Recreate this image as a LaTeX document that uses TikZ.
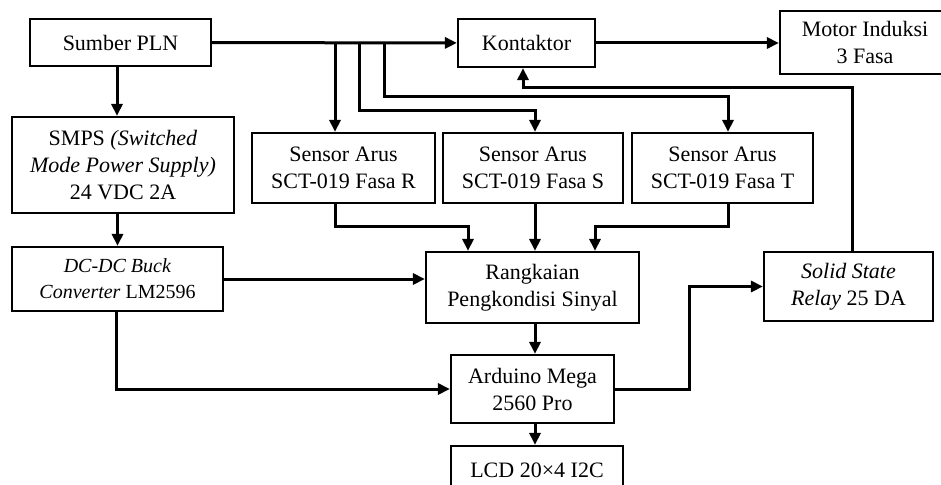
\documentclass[tikz,border=0pt]{standalone}
\usepackage{fontspec}
\setmainfont{Liberation Serif}
\usetikzlibrary{arrows.meta}
\begin{document}
\begin{tikzpicture}[x=1pt,y=-1pt,
  blok/.style={draw,line width=2.2pt,align=center,inner sep=0pt,
    font=\fontsize{22}{27}\selectfont},
  panah/.style={line width=3pt,-{Triangle[length=12pt,width=11pt]}}]
\clip (0,0) rectangle (941,484);
% blok diagram
\node[blok,minimum width=181,minimum height=47] (sumber) at (120.5,42.5) {Sumber PLN};
\node[blok,minimum width=222,minimum height=96] (smps) at (123,165) {SMPS \textit{(Switched}\\ \textit{Mode Power Supply)}\\ 24 VDC 2A};
\node[blok,minimum width=211,minimum height=64,font=\fontsize{20}{26}\selectfont] (dcdc) at (117.5,279) {\textit{DC-DC Buck}\\ \textit{Converter} LM2596};
\node[blok,minimum width=137,minimum height=48] (kontaktor) at (526.5,43) {Kontaktor};
\node[blok,minimum width=170,minimum height=63] (motor) at (865,42.5) {Motor Induksi\\ 3 Fasa};
\node[blok,minimum width=183,minimum height=70] (sensR) at (343.5,168) {Sensor Arus\\ SCT-019 Fasa R};
\node[blok,minimum width=180,minimum height=70] (sensS) at (533,168) {Sensor Arus\\ SCT-019 Fasa S};
\node[blok,minimum width=181,minimum height=70] (sensT) at (722.5,168) {Sensor Arus\\ SCT-019 Fasa T};
\node[blok,minimum width=213,minimum height=71] (rangkaian) at (532.5,287.5) {Rangkaian\\ Pengkondisi Sinyal};
\node[blok,minimum width=163,minimum height=68] (arduino) at (532.5,389) {Arduino Mega\\ 2560 Pro};
\node[blok,minimum width=172,minimum height=48] (lcd) at (537,470) {LCD 20×4 I2C};
\node[blok,minimum width=169,minimum height=69] (ssr) at (848.5,286.5) {\textit{Solid State}\\ \textit{Relay} 25 DA};
% titik cabang
\coordinate (cabR) at (335,42.5);
\coordinate (cabS) at (359,42.5);
\coordinate (cabT) at (384,42.5);
% jalur daya
\draw[panah] (sumber) -- (kontaktor);
\draw[panah] (kontaktor) -- (kontaktor -| motor.west);
\draw[panah] (cabR) -- (cabR |- sensR.north);
\draw[panah] (cabS) -- (359,111) -| ([xshift=2pt]sensS.north);
\draw[panah] (cabT) -- (384,97) -| ([xshift=5.5pt]sensT.north);
\draw[panah] ([xshift=-3.5pt]sumber.south) -- ([xshift=-3.5pt]sumber.south |- smps.north);
\draw[panah] (dcdc.north |- smps.south) -- (dcdc.north);
% jalur sinyal
\draw[panah] ([xshift=-8.5pt]sensR.south) |- (468,226) -- (468,226 |- rangkaian.north);
\draw[panah] ([xshift=2pt]sensS.south) -- ([xshift=2pt]sensS.south |- rangkaian.north);
\draw[panah] ([xshift=5.5pt]sensT.south) |- (595,226) -- (595,226 |- rangkaian.north);
\draw[panah] (dcdc.east) -- (dcdc.east -| rangkaian.west);
\draw[panah] ([xshift=-1.5pt]dcdc.south) |- (arduino.west);
\draw[panah] ([xshift=2.5pt]rangkaian.south) -- ([xshift=2.5pt]rangkaian.south |- arduino.north);
\draw[panah] ([xshift=2.5pt]arduino.south) -- ([xshift=2.5pt]arduino.south |- lcd.north);
\draw[panah] (arduino.east) -- (689,389) |- (ssr.west);
\draw[panah] ([xshift=3.5pt]ssr.north) |- (523,88) -- (523,88 |- kontaktor.south);
\end{tikzpicture}
\end{document}
